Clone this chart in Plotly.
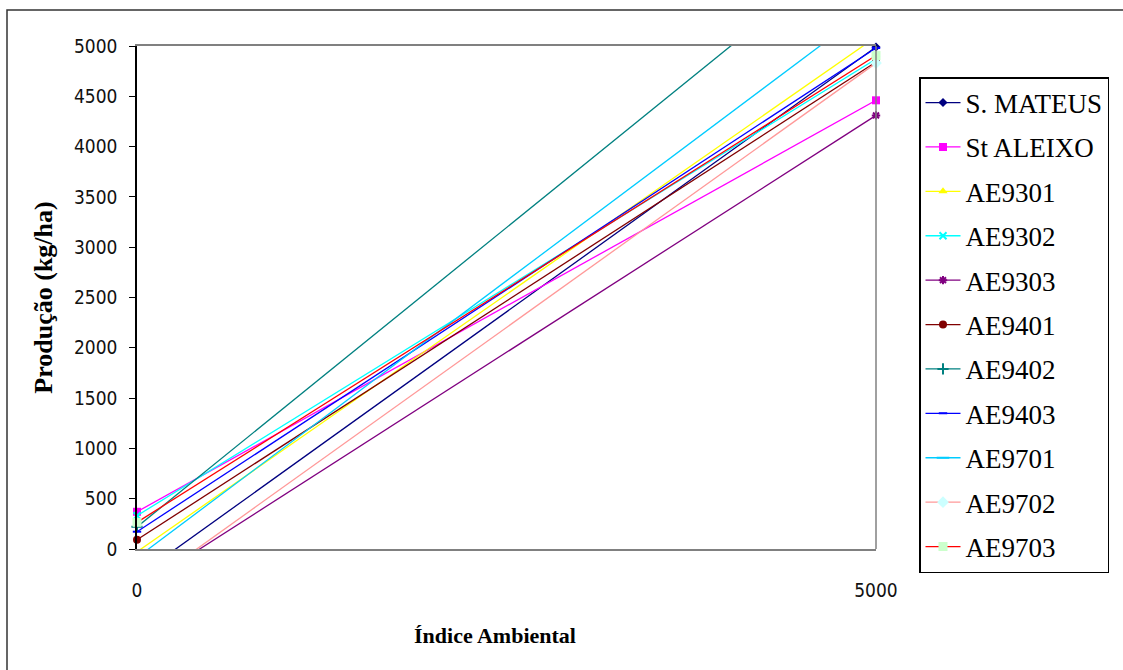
import plotly.graph_objects as go

# Environmental index (x) at the two ends of each regression line
indice = [0, 5000]

cultivares = ["S. MATEUS", "St ALEIXO", "AE9301", "AE9302", "AE9303", "AE9401",
              "AE9402", "AE9403", "AE9701", "AE9702", "AE9703"]

# Predicted yield (kg/ha) at index 0 and index 5000
s_mateus = [-276, 4990]
st_aleixo = [370, 4460]
ae9301 = [-28, 5090]
ae9302 = [331, 4870]
ae9303 = [-400, 4310]
ae9401 = [92, 4840]
ae9402 = [220, 6170]
ae9403 = [172, 4980]
ae9701 = [-86, 5418]
ae9702 = [-425, 4830]
ae9703 = [265, 4905]

series = [s_mateus, st_aleixo, ae9301, ae9302, ae9303, ae9401,
          ae9402, ae9403, ae9701, ae9702, ae9703]

# line colour, marker symbol, marker fill, marker size
estilos = [
    ("#000080", "diamond", "#000080", 7),
    ("#FF00FF", "square", "#FF00FF", 8),
    ("#FFFF00", "triangle-up", "#FFFF00", 8),
    ("#00FFFF", "x-thin-open", "#00FFFF", 7),
    ("#800080", "asterisk-open", "#800080", 7),
    ("#800000", "circle", "#800000", 8),
    ("#008080", "cross-thin-open", "#008080", 8),
    ("#0000FF", "line-ew-open", "#0000FF", 6),
    ("#00CCFF", "line-ew-open", "#00CCFF", 9),
    ("#FF9999", "diamond", "#CCFFFF", 9),
    ("#FF0000", "square", "#CCFFCC", 9),
]

fig = go.Figure()
for i, (nome, ys) in enumerate(zip(cultivares, series)):
    cor, simb, preench, tam = estilos[i]
    aberto = simb.endswith("open")
    fig.add_trace(go.Scatter(
        x=indice, y=ys, name=nome, mode="lines+markers",
        legendgroup=nome,
        cliponaxis=False,
        line=dict(color=cor, width=1.3),
        marker=dict(symbol=simb, size=tam, color=preench,
                    line=dict(color=cor if aberto else preench,
                              width=2 if aberto else 0)),
    ))

L, R, T, B = 137, 247, 46, 121
W, H = 1123, 670
pw, ph = W - L - R, H - T - B

def px_x(p):
    return (p - L) / pw

def px_y(p):
    return (H - B - p) / ph

serif = "Liberation Serif, Times New Roman, serif"
narrow = "Liberation Sans Narrow, Arial Narrow, DejaVu Sans Condensed, sans-serif"

fig.update_layout(
    width=W, height=H,
    margin=dict(l=L, r=R, t=T, b=B),
    paper_bgcolor="white", plot_bgcolor="white",
    showlegend=True,
    legend=dict(
        x=px_x(919), y=px_y(77), xanchor="left", yanchor="top",
        bordercolor="black", borderwidth=1.5, bgcolor="white",
        font=dict(family=serif, size=27, color="black"),
        tracegroupgap=6.3, itemwidth=35, traceorder="grouped",
        maxheight=640,
    ),
    xaxis=dict(
        range=[0, 5000], tickvals=[0, 5000], ticktext=["0", "5000"],
        showgrid=False, zeroline=False,
        showline=True, linecolor="#808080", linewidth=1.5, mirror=True,
        ticks="", ticklabelstandoff=23,
        tickfont=dict(family=narrow, size=19, color="#111"),
    ),
    yaxis=dict(
        range=[0, 5000], dtick=500,
        showgrid=False, zeroline=False,
        showline=True, linecolor="black", linewidth=1.5,
        ticks="outside", ticklen=6, tickcolor="black", ticklabelstandoff=8,
        tickfont=dict(family=narrow, size=19, color="#111"),
        title=dict(text="<b>Produção (kg/ha)</b>", standoff=14,
                   font=dict(family=serif, size=26, color="black")),
    ),
    annotations=[
        dict(text="<b>Índice Ambiental</b>", xref="paper", yref="paper",
             x=px_x(495), y=px_y(635), xanchor="center", yanchor="middle",
             showarrow=False, font=dict(family=serif, size=22, color="black")),
    ],
    shapes=[
        # right edge of the plot area
        dict(type="line", xref="paper", yref="paper", x0=1, x1=1, y0=0, y1=1,
             line=dict(color="#808080", width=1.5)),
        # outer chart frame
        dict(type="rect", xref="paper", yref="paper",
             x0=px_x(7), x1=px_x(1140), y0=px_y(690), y1=px_y(10),
             line=dict(color="#333333", width=1.5), layer="below"),
    ],
)

fig.write_html("out.html")
